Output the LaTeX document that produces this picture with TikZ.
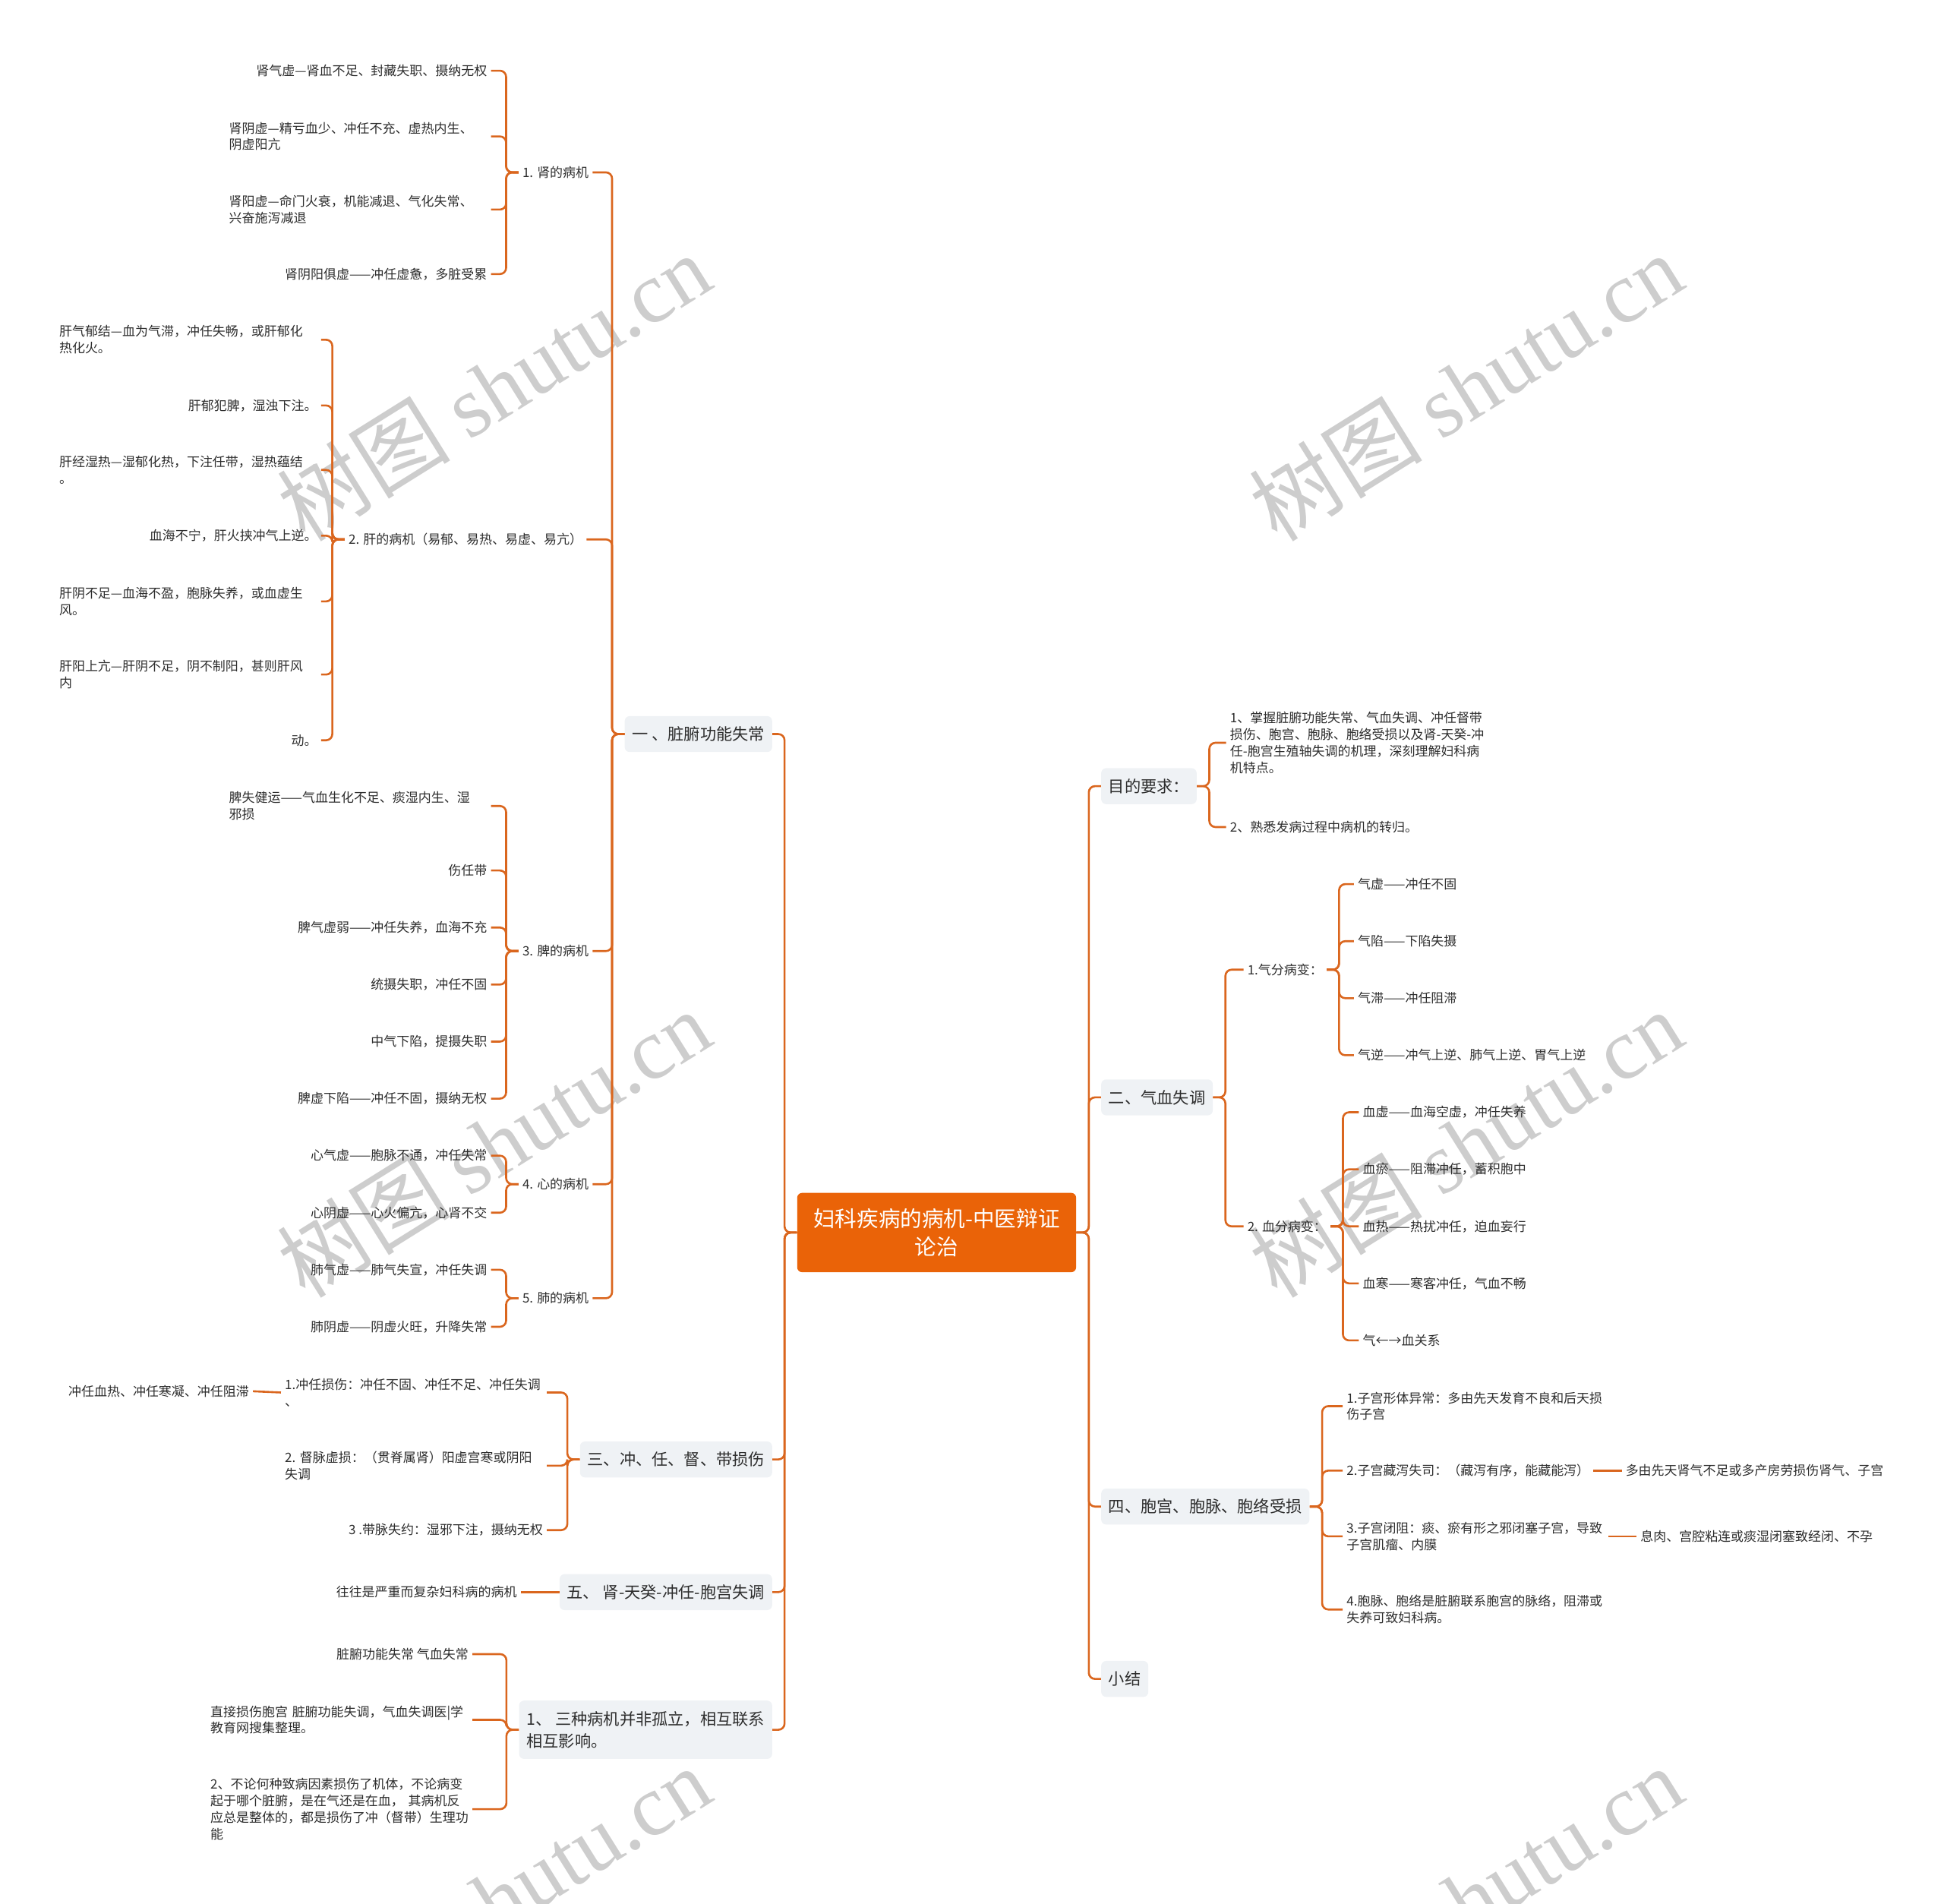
\documentclass[tikz,border=0pt]{standalone}
\usepackage{fontspec}
\setmainfont{Noto Sans CJK SC}
\newfontfamily\wmfont{Liberation Serif}
\definecolor{rootor}{RGB}{234,99,8}
\definecolor{lnor}{RGB}{218,102,30}
\definecolor{boxbg}{RGB}{239,242,245}
\definecolor{txt}{RGB}{45,45,45}
\definecolor{wmgray}{RGB}{205,205,205}

\begin{document}
\begin{tikzpicture}[x=1pt, y=-1pt,
  every node/.style={text=txt, font=\fontsize{10.4}{13.4}\selectfont, inner sep=3pt},
  root/.style={fill=rootor, text=white, rounded corners=4pt, font=\fontsize{17.5}{23}\selectfont, align=center, minimum width=225pt, minimum height=64pt},
  topic/.style={fill=boxbg, rounded corners=4pt, font=\fontsize{13}{18}\selectfont, inner xsep=6pt, minimum height=29pt},
  wrap/.style={align=left, text width=208pt},
  ln/.style={draw=lnor, line width=1.6pt, rounded corners=5pt},
  wm/.style={text=wmgray, font=\fontsize{70}{70}\selectfont, rotate=32}]
\useasboundingbox (0,0) rectangle (1568,1535);
\node[wm] (wm1) at (398,312) {树图 {\wmfont shutu.cn}};
\node[wm] (wm2) at (1182,312) {树图 {\wmfont shutu.cn}};
\node[wm] (wm3) at (398,922) {树图 {\wmfont shutu.cn}};
\node[wm] (wm4) at (1182,922) {树图 {\wmfont shutu.cn}};
\node[wm] (wm5) at (398,1532) {树图 {\wmfont shutu.cn}};
\node[wm] (wm6) at (1182,1532) {树图 {\wmfont shutu.cn}};

\node[root] (root) at (755.5,994) {妇科疾病的病机-中医辩证\\论治};

\node[topic, anchor=east] (zf) at (623,592) {一 、脏腑功能失常};
\node[topic, anchor=east] (cr) at (623,1177) {三、冲、任、督、带损伤};
\node[topic, anchor=east] (sz) at (623,1284) {五、 肾-天癸-冲任-胞宫失调};
\node[topic, anchor=east, align=left, minimum height=47pt] (sz2) at (623,1395) {1、 三种病机并非孤立，相互联系\\相互影响。};
\node[topic, anchor=west] (md) at (888,634) {目的要求：};
\node[topic, anchor=west] (qx) at (888,885) {二、气血失调};
\node[topic, anchor=west] (bg) at (888,1215) {四、胞宫、胞脉、胞络受损};
\node[topic, anchor=west] (xj) at (888,1354) {小结};
\draw[ln] (root.west) -- ++(-10,0) |- (zf.east);
\draw[ln] (root.west) -- ++(-10,0) |- (cr.east);
\draw[ln] (root.west) -- ++(-10,0) |- (sz.east);
\draw[ln] (root.west) -- ++(-10,0) |- (sz2.east);
\draw[ln] (root.east) -- ++(10,0) |- (md.west);
\draw[ln] (root.east) -- ++(10,0) |- (qx.west);
\draw[ln] (root.east) -- ++(10,0) |- (bg.west);
\draw[ln] (root.east) -- ++(10,0) |- (xj.west);

\node[anchor=east] (shen) at (478,139) {1. 肾的病机};
\node[anchor=east] (gan) at (473,435) {2. 肝的病机（易郁、易热、易虚、易亢）};
\node[anchor=east] (pi) at (478,767) {3. 脾的病机};
\node[anchor=east] (xin) at (478,955) {4. 心的病机};
\node[anchor=east] (fei) at (478,1047) {5. 肺的病机};
\draw[ln] (zf.west) -- ++(-10,0) |- (shen.east);
\draw[ln] (zf.west) -- ++(-10,0) |- (gan.east);
\draw[ln] (zf.west) -- ++(-10,0) |- (pi.east);
\draw[ln] (zf.west) -- ++(-10,0) |- (xin.east);
\draw[ln] (zf.west) -- ++(-10,0) |- (fei.east);

\node[anchor=east] (s1) at (396,57) {肾气虚—肾血不足、封藏失职、摄纳无权};
\node[anchor=east, wrap] (s2) at (396,110) {肾阴虚—精亏血少、冲任不充、虚热内生、\\阴虚阳亢};
\node[anchor=east, wrap] (s3) at (396,169) {肾阳虚—命门火衰，机能减退、气化失常、\\兴奋施泻减退};
\node[anchor=east] (s4) at (396,221) {肾阴阳俱虚——冲任虚惫，多脏受累};
\draw[ln] (shen.west) -- ++(-10,0) |- (s1.east);
\draw[ln] (shen.west) -- ++(-10,0) |- (s2.east);
\draw[ln] (shen.west) -- ++(-10,0) |- (s3.east);
\draw[ln] (shen.west) -- ++(-10,0) |- (s4.east);

\node[anchor=east, wrap] (g1) at (259,274) {肝气郁结—血为气滞，冲任失畅，或肝郁化\\热化火。};
\node[anchor=east] (g2) at (259,327) {肝郁犯脾，湿浊下注。};
\node[anchor=east, wrap] (g3) at (259,379) {肝经湿热—湿郁化热，下注任带，湿热蕴结\\。};
\node[anchor=east] (g4) at (259,432) {血海不宁，肝火挟冲气上逆。};
\node[anchor=east, wrap] (g5) at (259,485) {肝阴不足—血海不盈，胞脉失养，或血虚生\\风。};
\node[anchor=east, wrap] (g6) at (259,544) {肝阳上亢—肝阴不足，阴不制阳，甚则肝风\\内};
\node[anchor=east] (g7) at (259,597) {动。};
\draw[ln] (gan.west) -- ++(-10,0) |- (g1.east);
\draw[ln] (gan.west) -- ++(-10,0) |- (g2.east);
\draw[ln] (gan.west) -- ++(-10,0) |- (g3.east);
\draw[ln] (gan.west) -- ++(-10,0) |- (g4.east);
\draw[ln] (gan.west) -- ++(-10,0) |- (g5.east);
\draw[ln] (gan.west) -- ++(-10,0) |- (g6.east);
\draw[ln] (gan.west) -- ++(-10,0) |- (g7.east);

\node[anchor=east, wrap] (p1) at (396,650) {脾失健运——气血生化不足、痰湿内生、湿\\邪损};
\node[anchor=east] (p2) at (396,702) {伤任带};
\node[anchor=east] (p3) at (396,748) {脾气虚弱——冲任失养，血海不充};
\node[anchor=east] (p4) at (396,794) {统摄失职，冲任不固};
\node[anchor=east] (p5) at (396,840) {中气下陷，提摄失职};
\node[anchor=east] (p6) at (396,886) {脾虚下陷——冲任不固，摄纳无权};
\draw[ln] (pi.west) -- ++(-10,0) |- (p1.east);
\draw[ln] (pi.west) -- ++(-10,0) |- (p2.east);
\draw[ln] (pi.west) -- ++(-10,0) |- (p3.east);
\draw[ln] (pi.west) -- ++(-10,0) |- (p4.east);
\draw[ln] (pi.west) -- ++(-10,0) |- (p5.east);
\draw[ln] (pi.west) -- ++(-10,0) |- (p6.east);

\node[anchor=east] (x1) at (396,932) {心气虚——胞脉不通，冲任失常};
\node[anchor=east] (x2) at (396,978) {心阴虚——心火偏亢，心肾不交};
\draw[ln] (xin.west) -- ++(-10,0) |- (x1.east);
\draw[ln] (xin.west) -- ++(-10,0) |- (x2.east);
\node[anchor=east] (f1) at (396,1024) {肺气虚——肺气失宣，冲任失调};
\node[anchor=east] (f2) at (396,1070) {肺阴虚——阴虚火旺，升降失常};
\draw[ln] (fei.west) -- ++(-10,0) |- (f1.east);
\draw[ln] (fei.west) -- ++(-10,0) |- (f2.east);

\node[anchor=east, wrap] (c1) at (441,1123) {1.冲任损伤：冲任不固、冲任不足、冲任失调\\、};
\node[anchor=east] (c1a) at (204,1122) {冲任血热、冲任寒凝、冲任阻滞};
\node[anchor=east, wrap] (c2) at (441,1182) {2.~督脉虚损：（贯脊属肾）阳虚宫寒或阴阳\\失调};
\node[anchor=east] (c3) at (441,1234) {3 .带脉失约：湿邪下注，摄纳无权};
\draw[ln] (cr.west) -- ++(-10,0) |- (c1.east);
\draw[ln] (cr.west) -- ++(-10,0) |- (c2.east);
\draw[ln] (cr.west) -- ++(-10,0) |- (c3.east);
\draw[ln] (c1.west) -- (c1a.east);

\node[anchor=east] (s5) at (420,1284) {往往是严重而复杂妇科病的病机};
\draw[ln] (sz.west) -- (s5.east);

\node[anchor=east] (z1) at (381,1334) {脏腑功能失常 气血失常};
\node[anchor=east, wrap] (z2) at (381,1387) {直接损伤胞宫~脏腑功能失调，气血失调医|学\\教育网搜集整理。};
\node[anchor=east, wrap] (z3) at (381,1459) {2、不论何种致病因素损伤了机体，不论病变\\起于哪个脏腑，是在气还是在血，~其病机反\\应总是整体的，都是损伤了冲（督带）生理功\\能};
\draw[ln] (sz2.west) -- ++(-10,0) |- (z1.east);
\draw[ln] (sz2.west) -- ++(-10,0) |- (z2.east);
\draw[ln] (sz2.west) -- ++(-10,0) |- (z3.east);

\node[anchor=west, wrap] (m1) at (989,599) {1、掌握脏腑功能失常、气血失调、冲任督带\\损伤、胞宫、胞脉、胞络受损以及肾-天癸-冲\\任-胞宫生殖轴失调的机理，深刻理解妇科病\\机特点。};
\node[anchor=west] (m2) at (989,667) {2、熟悉发病过程中病机的转归。};
\draw[ln] (md.east) -- ++(10,0) |- (m1.west);
\draw[ln] (md.east) -- ++(10,0) |- (m2.west);

\node[anchor=west] (qf) at (1003,782) {1.气分病变：};
\node[anchor=west] (xf) at (1003,989) {2. 血分病变：};
\draw[ln] (qx.east) -- ++(10,0) |- (qf.west);
\draw[ln] (qx.east) -- ++(10,0) |- (xf.west);
\node[anchor=west] (q1) at (1092,713) {气虚——冲任不固};
\node[anchor=west] (q2) at (1092,759) {气陷——下陷失摄};
\node[anchor=west] (q3) at (1092,805) {气滞——冲任阻滞};
\node[anchor=west] (q4) at (1092,851) {气逆——冲气上逆、肺气上逆、胃气上逆};
\draw[ln] (qf.east) -- ++(10,0) |- (q1.west);
\draw[ln] (qf.east) -- ++(10,0) |- (q2.west);
\draw[ln] (qf.east) -- ++(10,0) |- (q3.west);
\draw[ln] (qf.east) -- ++(10,0) |- (q4.west);
\node[anchor=west] (b1) at (1096,897) {血虚——血海空虚，冲任失养};
\node[anchor=west] (b2) at (1096,943) {血瘀——阻滞冲任，蓄积胞中};
\node[anchor=west] (b3) at (1096,989) {血热——热扰冲任，迫血妄行};
\node[anchor=west] (b4) at (1096,1035) {血寒——寒客冲任，气血不畅};
\node[anchor=west] (b5) at (1096,1081) {气←→血关系};
\draw[ln] (xf.east) -- ++(10,0) |- (b1.west);
\draw[ln] (xf.east) -- ++(10,0) |- (b2.west);
\draw[ln] (xf.east) -- ++(10,0) |- (b3.west);
\draw[ln] (xf.east) -- ++(10,0) |- (b4.west);
\draw[ln] (xf.east) -- ++(10,0) |- (b5.west);

\node[anchor=west, wrap] (w1) at (1083,1134) {1.子宫形体异常：多由先天发育不良和后天损\\伤子宫};
\node[anchor=west] (w2) at (1083,1186) {2.子宫藏泻失司：（藏泻有序，能藏能泻）};
\node[anchor=west] (w2a) at (1308,1186) {多由先天肾气不足或多产房劳损伤肾气、子宫};
\node[anchor=west, wrap] (w3) at (1083,1239) {3.子宫闭阻：痰、瘀有形之邪闭塞子宫，导致\\子宫肌瘤、内膜};
\node[anchor=west] (w3a) at (1320,1239) {息肉、宫腔粘连或痰湿闭塞致经闭、不孕};
\node[anchor=west, wrap] (w4) at (1083,1298) {4.胞脉、胞络是脏腑联系胞宫的脉络，阻滞或\\失养可致妇科病。};
\draw[ln] (bg.east) -- ++(10,0) |- (w1.west);
\draw[ln] (bg.east) -- ++(10,0) |- (w2.west);
\draw[ln] (bg.east) -- ++(10,0) |- (w3.west);
\draw[ln] (bg.east) -- ++(10,0) |- (w4.west);
\draw[ln] (w2.east) -- (w2a.west);
\draw[ln] (w3.east) -- (w3a.west);
\end{tikzpicture}
\end{document}
